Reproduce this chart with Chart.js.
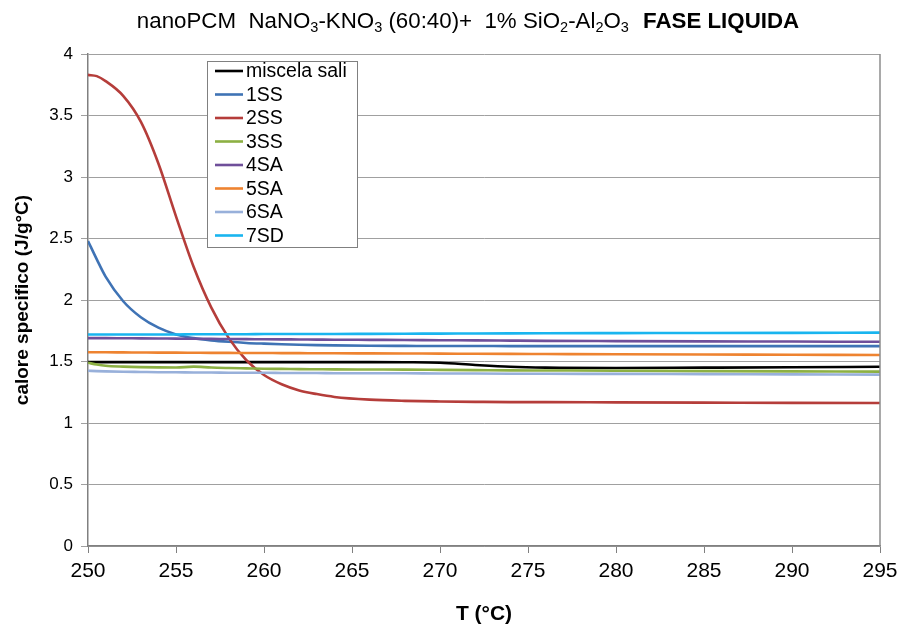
<!DOCTYPE html>
<html>
<head>
<meta charset="utf-8">
<script src="https://cdn.jsdelivr.net/npm/chart.js@4"></script>
<style>
  html, body { margin: 0; padding: 0; background: #fff; }
  #wrap { position: relative; width: 901px; height: 628px; overflow: hidden; }
  #title {
    position: absolute; top: 7px; left: 468px; transform: translateX(-50%);
    white-space: nowrap; font-family: "Liberation Sans", Arial, sans-serif;
    font-size: 22.3px; color: #000; line-height: 27px;
  }
  #title sub { font-size: 0.65em; vertical-align: -0.3em; line-height: 0; }
  #title b { margin-left: 8px; }
</style>
</head>
<body>
<div id="wrap">
  <canvas id="c" width="901" height="628"></canvas>
  <div id="title">nanoPCM&nbsp; NaNO<sub>3</sub>-KNO<sub>3</sub> (60:40)+&nbsp; 1% SiO<sub>2</sub>-Al<sub>2</sub>O<sub>3</sub> <b>FASE LIQUIDA</b></div>
</div>
<script>
// Temperatures (°C)
const T = [250, 250.5, 251, 252, 253, 254, 255, 256, 257, 258, 259, 260, 261, 262, 263, 264, 266, 268, 270, 272, 274, 276, 280, 285, 290, 295];

// Specific heat (J/g°C) per sample
const miscelaSali = [1.495,1.495,1.495,1.495,1.495,1.495,1.495,1.495,1.495,1.495,1.495,1.495,1.495,1.495,1.495,1.495,1.495,1.494,1.490,1.472,1.457,1.450,1.447,1.450,1.453,1.457];
const s1SS = [2.48,2.33,2.19,1.99,1.86,1.775,1.72,1.69,1.672,1.66,1.651,1.645,1.64,1.636,1.633,1.631,1.628,1.627,1.626,1.626,1.625,1.625,1.625,1.625,1.625,1.625];
const s2SS = [3.83,3.82,3.78,3.66,3.45,3.11,2.68,2.27,1.94,1.69,1.51,1.39,1.315,1.265,1.235,1.212,1.19,1.18,1.175,1.172,1.17,1.17,1.168,1.166,1.164,1.163];
const s3SS = [1.49,1.475,1.465,1.458,1.454,1.452,1.451,1.458,1.451,1.447,1.444,1.441,1.44,1.438,1.437,1.436,1.435,1.434,1.432,1.43,1.428,1.427,1.425,1.422,1.42,1.418];
const s4SA = [1.69,1.69,1.69,1.689,1.688,1.687,1.686,1.685,1.684,1.683,1.682,1.681,1.68,1.679,1.678,1.677,1.676,1.675,1.673,1.672,1.67,1.668,1.666,1.664,1.662,1.66];
const s5SA = [1.575,1.575,1.575,1.574,1.573,1.572,1.572,1.571,1.57,1.57,1.569,1.569,1.568,1.568,1.567,1.567,1.566,1.565,1.564,1.563,1.562,1.561,1.559,1.557,1.555,1.553];
const s6SA = [1.425,1.422,1.42,1.417,1.415,1.413,1.412,1.411,1.41,1.409,1.408,1.408,1.407,1.406,1.406,1.405,1.405,1.404,1.403,1.402,1.401,1.4,1.399,1.397,1.395,1.393];
const s7SD = [1.72,1.72,1.72,1.72,1.72,1.72,1.72,1.721,1.721,1.722,1.722,1.723,1.723,1.724,1.724,1.724,1.725,1.726,1.727,1.728,1.729,1.73,1.731,1.732,1.733,1.735];

const seriesLabels = ['miscela sali', '1SS', '2SS', '3SS', '4SA', '5SA', '6SA', '7SD'];
const seriesValues = [miscelaSali, s1SS, s2SS, s3SS, s4SA, s5SA, s6SA, s7SD];
const seriesColors = ['#000000', '#3f73b5', '#b53d3a', '#8cb043', '#6f4f9a', '#ee8330', '#98b0da', '#19b5ef'];

const xTicks = [250, 255, 260, 265, 270, 275, 280, 285, 290, 295];
const yTicks = [0, 0.5, 1, 1.5, 2, 2.5, 3, 3.5, 4];

const FONT = '"Liberation Sans", Arial, sans-serif';

const datasets = seriesLabels.map((lab, i) => ({
  label: lab,
  data: T.map((t, k) => ({ x: t, y: seriesValues[i][k] })),
  borderColor: seriesColors[i],
  backgroundColor: seriesColors[i],
  borderWidth: 2.6,
  pointRadius: 0,
  cubicInterpolationMode: 'monotone',
  fill: false,
  order: seriesLabels.length - i
}));

const extrasPlugin = {
  id: 'extras',
  afterDraw(chart) {
    const { ctx, chartArea: a } = chart;
    ctx.save();
    // right border
    ctx.strokeStyle = '#8c8c8c';
    ctx.lineWidth = 1.5;
    ctx.beginPath();
    ctx.moveTo(a.right, a.top);
    ctx.lineTo(a.right, a.bottom);
    ctx.stroke();

    // legend box
    const lx = a.left + 119, ly = a.top + 7, lw = 150, lh = 186;
    ctx.fillStyle = '#ffffff';
    ctx.fillRect(lx, ly, lw, lh);
    ctx.strokeStyle = '#808080';
    ctx.lineWidth = 1;
    ctx.strokeRect(lx + 0.5, ly + 0.5, lw, lh);
    ctx.font = '19.5px ' + FONT;
    ctx.textBaseline = 'middle';
    ctx.textAlign = 'left';
    chart.data.datasets.forEach((ds, i) => {
      const yy = ly + 10 + i * 23.5;
      ctx.strokeStyle = ds.borderColor;
      ctx.lineWidth = 2.6;
      ctx.beginPath();
      ctx.moveTo(lx + 8, yy);
      ctx.lineTo(lx + 36, yy);
      ctx.stroke();
      ctx.fillStyle = '#000';
      ctx.fillText(ds.label, lx + 39, yy + 1);
    });
    ctx.restore();
  }
};

new Chart(document.getElementById('c'), {
  type: 'line',
  data: { datasets },
  plugins: [extrasPlugin],
  options: {
    responsive: false,
    animation: false,
    devicePixelRatio: 1,
    layout: { padding: { top: 54, right: 21, left: 0, bottom: 0 } },
    plugins: { legend: { display: false }, tooltip: { enabled: false }, title: { display: false } },
    scales: {
      x: {
        type: 'linear',
        min: 250, max: 295,
        afterBuildTicks: (s) => { s.ticks = xTicks.map(v => ({ value: v })); },
        afterFit: (s) => { s.height = 82; s.paddingLeft = 0; s.paddingRight = 0; },
        ticks: { color: '#000', font: { family: FONT, size: 21 }, padding: 6, maxRotation: 0, autoSkip: false },
        grid: { drawOnChartArea: false, drawTicks: true, tickLength: 7, color: '#808080' },
        border: { color: '#808080', width: 1.5 },
        title: { display: true, text: 'T (°C)', color: '#000', font: { family: FONT, size: 21, weight: 'bold' }, padding: { top: 0, bottom: 1 } }
      },
      y: {
        min: 0, max: 4,
        afterBuildTicks: (s) => { s.ticks = yTicks.map(v => ({ value: v })); },
        afterFit: (s) => { s.width = 88; s.paddingTop = 0; s.paddingBottom = 0; },
        ticks: { color: '#000', font: { family: FONT, size: 17 }, padding: 8, callback: (v) => String(v) },
        grid: { color: '#a0a0a0', lineWidth: 1, tickLength: 7 },
        border: { color: '#808080', width: 1.5 },
        title: { display: true, text: 'calore specifico (J/g°C)', color: '#000', font: { family: FONT, size: 19, weight: 'bold' }, padding: { top: 11, bottom: 4 } }
      }
    }
  }
});
</script>
</body>
</html>
